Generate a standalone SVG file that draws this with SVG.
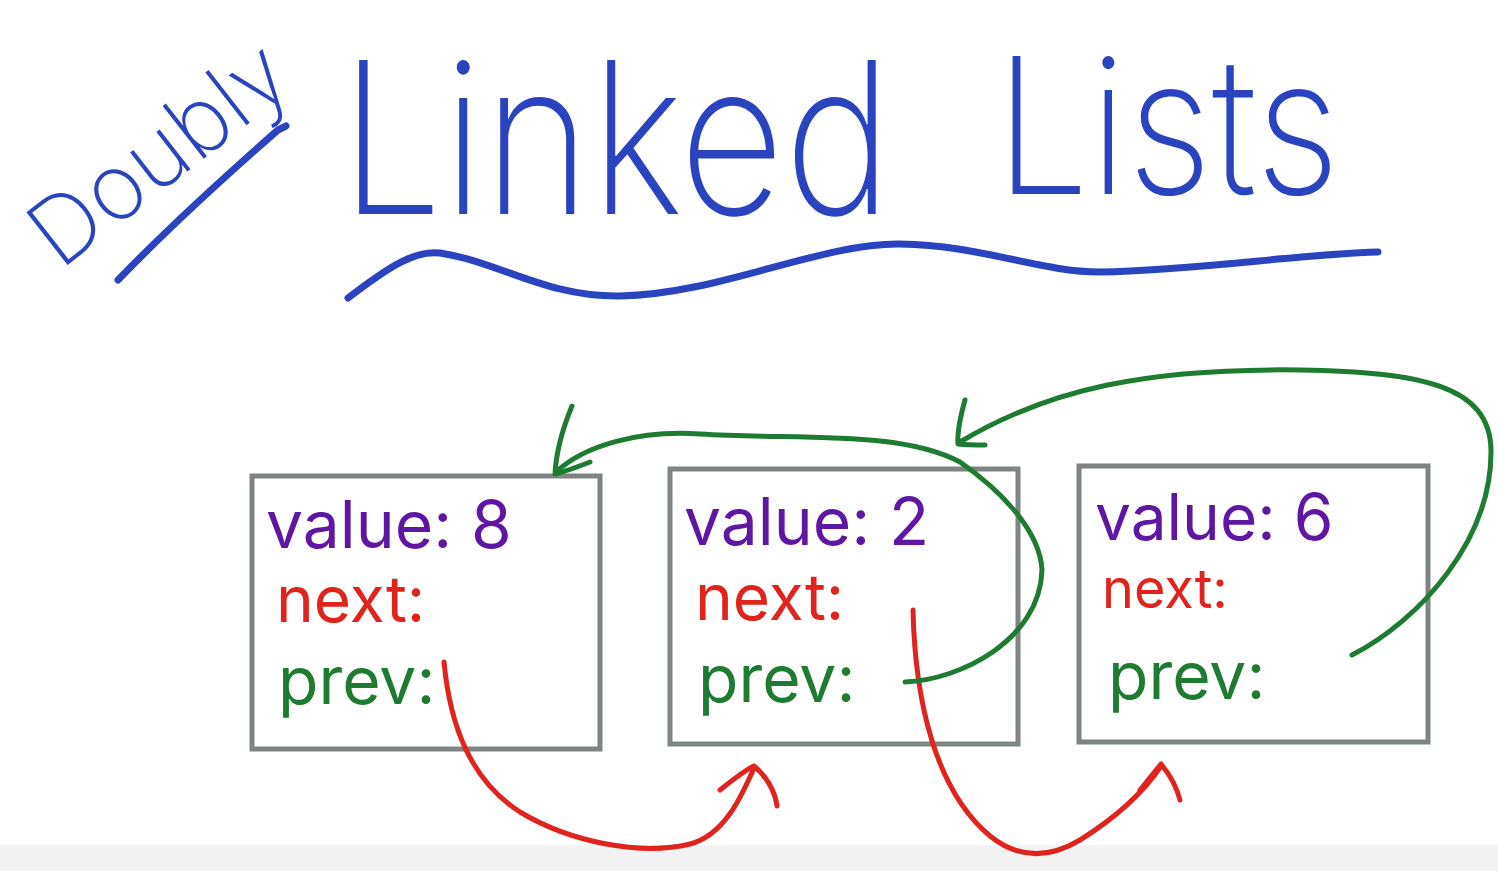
<svg xmlns="http://www.w3.org/2000/svg" width="1498" height="871" viewBox="0 0 1498 871">
<style>
.title{font-family:Inter,Lato,"DejaVu Sans",sans-serif;font-weight:200;fill:#2a44c0}
.ink{fill:none;stroke-linecap:round;stroke-linejoin:round}
.blue{stroke:#2a44c0;stroke-width:7}
.box{fill:#ffffff;stroke:#7d8482;stroke-width:5}
.lbl{font-family:Inter,Lato,"DejaVu Sans",sans-serif;font-weight:400}
.val{fill:#5e17a2}
.nxt{fill:#e0231c}
.prv{fill:#1e7b32}
.red{stroke:#e0231c;stroke-width:5}
.grn{stroke:#1e7b32;stroke-width:5}
</style>
<rect width="1498" height="871" fill="#ffffff"/>
<rect x="0" y="845" width="1498" height="26" fill="#f3f3f3"/>
<g id="title">
<text class="title" font-size="92" font-weight="300" transform="translate(60,271) rotate(-38)" textLength="300" lengthAdjust="spacingAndGlyphs">Doubly</text>
<path class="ink blue" d="M118,280 C176,220 238,165 278,130 L286,126"/>
<text class="title" x="340" y="214" font-size="212" textLength="552" lengthAdjust="spacingAndGlyphs">Linked</text>
<text class="title" x="995" y="194" font-size="190" textLength="345" lengthAdjust="spacingAndGlyphs">Lists</text>
<path class="ink blue" d="M348,298 C390,266 415,250 440,253 C500,262 545,297 620,296 C720,294 820,243 900,244 C980,245 1040,272 1100,272 C1200,270 1300,254 1378,252"/>
</g>
<g id="node1">
<rect class="box" x="252" y="476" width="348" height="273"/>
<text class="lbl val" x="266" y="548" font-size="66">value: 8</text>
<text class="lbl nxt" x="276" y="622" font-size="64">next:</text>
<text class="lbl prv" x="278" y="704" font-size="66">prev:</text>
</g>
<g id="node2">
<rect class="box" x="670" y="469" width="348" height="275"/>
<text class="lbl val" x="684" y="545" font-size="66">value: 2</text>
<text class="lbl nxt" x="695" y="620" font-size="64">next:</text>
<text class="lbl prv" x="698" y="702" font-size="66">prev:</text>
</g>
<g id="node3">
<rect class="box" x="1079" y="466" width="349" height="276"/>
<text class="lbl val" x="1095" y="540" font-size="64">value: 6</text>
<text class="lbl nxt" x="1102" y="608" font-size="54">next:</text>
<text class="lbl prv" x="1108" y="699" font-size="66">prev:</text>
</g>
<g id="connectors">
<path class="ink red" d="M444,662 C450,725 470,780 520,812 C570,842 640,856 690,844 C725,835 742,795 754,768"/>
<path class="ink red" d="M720,790 C735,778 745,770 754,766 C765,775 775,790 777,806"/>
<path class="ink red" d="M913,610 C915,700 935,790 990,836 C1020,860 1050,858 1080,840 C1120,815 1145,790 1161,766"/>
<path class="ink red" d="M1140,790 L1161,764 C1170,775 1177,788 1180,800"/>
<path class="ink grn" d="M905,682 C960,680 1040,640 1042,570 C1040,530 1000,490 960,462 C900,430 800,440 700,434 C640,430 585,445 556,472"/>
<path class="ink grn" d="M572,406 C562,430 556,455 555,474 C570,470 580,466 590,462"/>
<path class="ink grn" d="M1352,655 C1420,620 1492,540 1491,450 C1490,385 1420,372 1300,370 C1150,368 1050,388 960,442"/>
<path class="ink grn" d="M965,400 C960,418 957,432 958,444 C968,445 977,445 985,445"/>
</g>
</svg>
